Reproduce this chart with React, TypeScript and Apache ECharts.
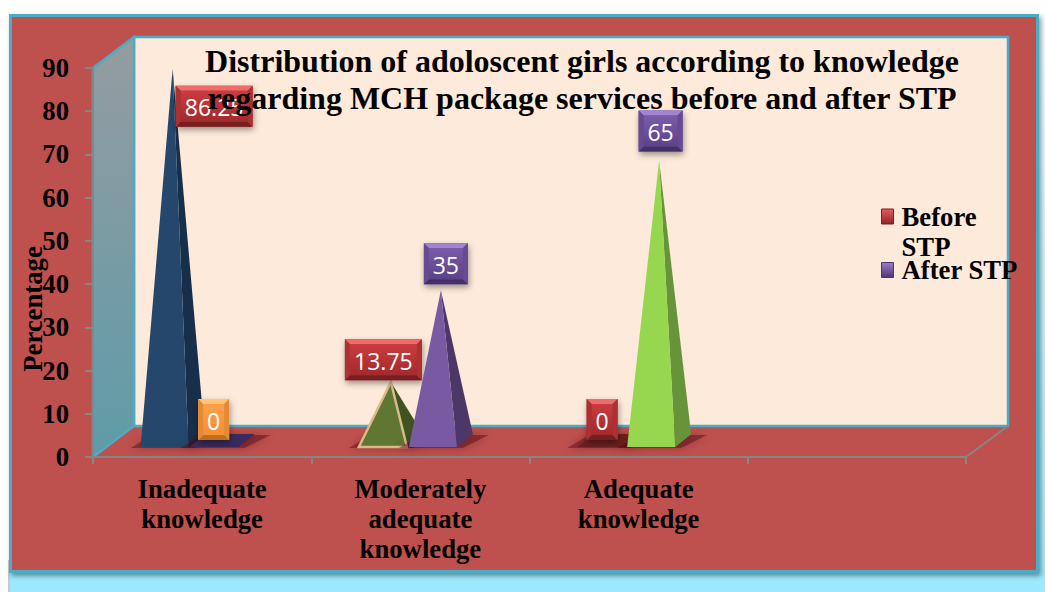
import React, { useEffect, useRef } from "react";
import * as echarts from "echarts";

const categories = ["Inadequate\nknowledge", "Moderately\nadequate\nknowledge", "Adequate\nknowledge", ""];
const beforeValues = [86.25, 13.75, 0];
const afterValues = [0, 35, 65];
const yTicks = { min: 0, max: 90, interval: 10 };
const titleText = "Distribution of adoloscent girls according to knowledge\nregarding MCH package services before and after STP";
const yAxisTitle = "Percentage";

// styles per point, separate from the data
const beforeFront = ["#25476c", "#5f7732", "#6f2020"];
const beforeSide = ["#172f4b", "#3f5320", "#6f2020"];
const afterFront = ["#3a2a5e", "#7a59a3", "#97d74f"];
const afterSide = ["#3a2a5e", "#4d3767", "#67933a"];
const beforeLabelTone = ["red", "red", "red"];
const afterLabelTone = ["orange", "purple", "purple"];
const beforeLabelShift = [[41.5, 22], [-7.5, -37.7], [-7, -37.5]];
const afterLabelShift = [[-9, -37.5], [5, -42], [1.5, -45]];
const tones: any = {
  red: { top: "#f26b6b", mid: "#c93d3f", low: "#a32a2c", bot: "#742021", side: "#ad3032" },
  purple: { top: "#a384d3", mid: "#7a5ba8", low: "#5e4288", bot: "#442f66", side: "#684a94" },
  orange: { top: "#ffc574", mid: "#fba04a", low: "#f58f35", bot: "#bd6f20", side: "#e58a32" },
};
const serif = "'Liberation Serif', 'Times New Roman', serif";

function labelShapes(cx: number, cy: number, text: string, toneName: string) {
  const t = tones[toneName];
  const w = text.length >= 5 ? 77 : text.length === 2 ? 44 : 31;
  const h = 41;
  const x = cx - w / 2;
  const y = cy - h / 2;
  const b = 5;
  return [
    { type: "rect", shape: { x, y, width: w, height: h }, style: { fill: t.low, shadowBlur: 6, shadowColor: "rgba(0,0,0,0.4)", shadowOffsetX: 1, shadowOffsetY: 3 } },
    { type: "polygon", shape: { points: [[x, y], [x + w, y], [x + w - b, y + b], [x + b, y + b]] }, style: { fill: t.top } },
    { type: "polygon", shape: { points: [[x, y + h], [x + w, y + h], [x + w - b, y + h - b], [x + b, y + h - b]] }, style: { fill: t.bot } },
    { type: "polygon", shape: { points: [[x, y], [x + b, y + b], [x + b, y + h - b], [x, y + h]] }, style: { fill: t.side } },
    { type: "polygon", shape: { points: [[x + w, y], [x + w - b, y + b], [x + w - b, y + h - b], [x + w, y + h]] }, style: { fill: t.side } },
    {
      type: "rect",
      shape: { x: x + b, y: y + b, width: w - 2 * b, height: h - 2 * b },
      style: { fill: new echarts.graphic.LinearGradient(0, 0, 0, 1, [{ offset: 0, color: t.mid }, { offset: 1, color: t.low }]) },
    },
    {
      type: "text",
      style: { x: cx, y: cy + 1, text, fill: "#ffffff", font: "23px 'Open Sans', sans-serif", align: "center", verticalAlign: "middle" },
    },
  ];
}

function pyramidRender(shift: number, fronts: string[], sides: string[], tonesList: string[], labelShift: number[][], outlineIndex: number) {
  return (params: any, api: any) => {
    const idx = api.value(0);
    const val = api.value(1);
    const di = params.dataIndex;
    const [catX, axisY] = api.coord([idx, 0]);
    const [, topY] = api.coord([idx, val]);
    const halfFront = 24;
    const depthX = 16;
    const depthY = 13;
    const frontY = axisY - 10;
    const center = catX + shift;
    const fl = center - depthX / 2 - halfFront;
    const fr = center - depthX / 2 + halfFront;
    const backY = frontY - depthY;
    const apex = [center, topY - 15.5];
    const stroke = di === outlineIndex ? { stroke: "#dcb98a", lineWidth: 2.5, lineJoin: "miter" } : {};
    const children: any[] = [
      {
        type: "polygon",
        shape: { points: [[fl - 10, frontY + 1], [fr + 6, frontY + 1], [fr + depthX + 16, backY + 1], [fl + depthX - 4, backY + 1]] },
        style: { fill: "rgba(70,15,20,0.4)", shadowBlur: 10, shadowColor: "rgba(70,15,20,0.8)" },
      },
      {
        type: "polygon",
        shape: { points: [[fl, frontY], [fr, frontY], [fr + depthX, backY], [fl + depthX, backY]] },
        style: { fill: sides[di] },
      },
    ];
    if (val > 0) {
      children.push({
        type: "polygon",
        shape: { points: [[fr, frontY], [fr + depthX, backY], apex] },
        style: { fill: sides[di] },
      });
      children.push({
        type: "polygon",
        shape: { points: [[fl, frontY], [fr, frontY], apex] },
        style: { fill: fronts[di], ...stroke },
      });
    }
    children.push(...labelShapes(center + labelShift[di][0], topY + labelShift[di][1], String(val), tonesList[di]));
    return { type: "group", children };
  };
}

function App() {
  const ref = useRef<HTMLDivElement>(null);
  useEffect(() => {
    const chart = echarts.init(ref.current!, null, { renderer: "svg" });
    const teal = "#4bacc6";
    const grey = "#868686";
    const axisText = { fontFamily: serif, fontWeight: "bold" as const, fontSize: 26.7, color: "#000" };
    const legendRich = { t: { ...axisText, lineHeight: 30, padding: [0, 0, 0, 3] } };
    const iconFill = (a: string, b: string) => new echarts.graphic.LinearGradient(0, 0, 0, 1, [{ offset: 0, color: a }, { offset: 1, color: b }]);
    chart.setOption({
      animation: false,
      backgroundColor: "#ffffff",
      title: {
        text: titleText,
        left: 577,
        top: 37,
        textAlign: "center",
        textStyle: { fontFamily: serif, fontWeight: "bold", fontSize: 32, lineHeight: 37, color: "#000" },
        z: 10,
      },
      legend: [
        {
          data: [{ name: "Before STP", itemStyle: { color: iconFill("#e85c5c", "#8f2527"), borderColor: "#7c1f20", borderWidth: 1 } }],
          orient: "vertical", left: 881, top: 173, padding: 0, itemWidth: 12, itemHeight: 15, icon: "rect",
          formatter: () => "{t| }\n{t|Before}\n{t|STP}",
          textStyle: { ...axisText, rich: legendRich },
          selectedMode: false,
        },
        {
          data: [{ name: "After STP", itemStyle: { color: iconFill("#9a7ccb", "#4e3675"), borderColor: "#4e3675", borderWidth: 1 } }],
          orient: "vertical", left: 881, top: 256.5, padding: 0, itemWidth: 12, itemHeight: 15, icon: "rect",
          formatter: () => "{t|After STP}",
          textStyle: { ...axisText, rich: legendRich },
          selectedMode: false,
        },
      ],
      grid: { left: 93, right: 79, top: 68, bottom: 135 },
      xAxis: {
        type: "category",
        data: categories,
        axisLine: { lineStyle: { color: grey, width: 2 } },
        axisTick: { show: true, alignWithLabel: false, length: 7, lineStyle: { color: grey, width: 2 } },
        axisLabel: { ...axisText, interval: 0, margin: 17, lineHeight: 30 },
      },
      yAxis: {
        type: "value",
        ...yTicks,
        splitLine: { show: false },
        axisLine: { show: true, lineStyle: { color: grey, width: 2 } },
        axisTick: { show: true, length: 8, lineStyle: { color: grey, width: 2 } },
        axisLabel: { ...axisText, margin: 24 },
      },
      graphic: [
        { type: "rect", z: -10, shape: { x: 10, y: 14, width: 1035, height: 578 }, style: { fill: "#9ce9ff" } },
        {
          type: "rect", z: -10, shape: { x: 1036, y: 14, width: 9, height: 578 },
          style: { fill: new echarts.graphic.LinearGradient(0, 0, 0, 1, [{ offset: 0, color: "#f0fcff" }, { offset: 1, color: "#9ce9ff" }]) },
        },
        { type: "rect", z: -10, shape: { x: 8, y: 560, width: 2, height: 32 }, style: { fill: "#c9c9c9" } },
        {
          type: "rect", z: -9, shape: { x: 10.5, y: 15.5, width: 1027, height: 556 },
          style: { fill: "#be514e", stroke: teal, lineWidth: 3, shadowBlur: 5, shadowColor: "rgba(0,0,0,0.4)", shadowOffsetX: 2, shadowOffsetY: 3 },
        },
        { type: "rect", z: -8, shape: { x: 134, y: 37, width: 874, height: 389 }, style: { fill: "#fdeada", stroke: teal, lineWidth: 2.5 } },
        {
          type: "polygon", z: -8, shape: { points: [[93, 68], [134, 37], [134, 426], [93, 457]] },
          style: {
            fill: new echarts.graphic.LinearGradient(0, 0, 0, 1, [{ offset: 0, color: "#959ca0" }, { offset: 1, color: "#5f9ba8" }]),
            stroke: teal, lineWidth: 2.5,
          },
        },
        { type: "line", z: -7, shape: { x1: 966, y1: 457, x2: 1008, y2: 426 }, style: { stroke: grey, lineWidth: 2 } },
        {
          type: "text", z: 8, x: 33, y: 309, rotation: Math.PI / 2,
          style: { text: yAxisTitle, fill: "#000", font: `bold 26.7px ${serif}`, align: "center", verticalAlign: "middle" },
        },
      ],
      series: [
        {
          name: "Before STP",
          type: "custom",
          coordinateSystem: "cartesian2d",
          itemStyle: { color: "#b53234" },
          renderItem: pyramidRender(-29.5, beforeFront, beforeSide, beforeLabelTone, beforeLabelShift, 1),
          data: beforeValues.map((v, i) => [i, v]),
          encode: { x: 0, y: 1 },
          clip: false,
        },
        {
          name: "After STP",
          type: "custom",
          coordinateSystem: "cartesian2d",
          itemStyle: { color: "#6a4c96" },
          renderItem: pyramidRender(20.5, afterFront, afterSide, afterLabelTone, afterLabelShift, -1),
          data: afterValues.map((v, i) => [i, v]),
          encode: { x: 0, y: 1 },
          clip: false,
        },
      ],
    });
    return () => chart.dispose();
  }, []);
  return <div ref={ref} style={{ position: "fixed", left: 0, top: 0, width: 1045, height: 592 }} />;
}

export default App;
